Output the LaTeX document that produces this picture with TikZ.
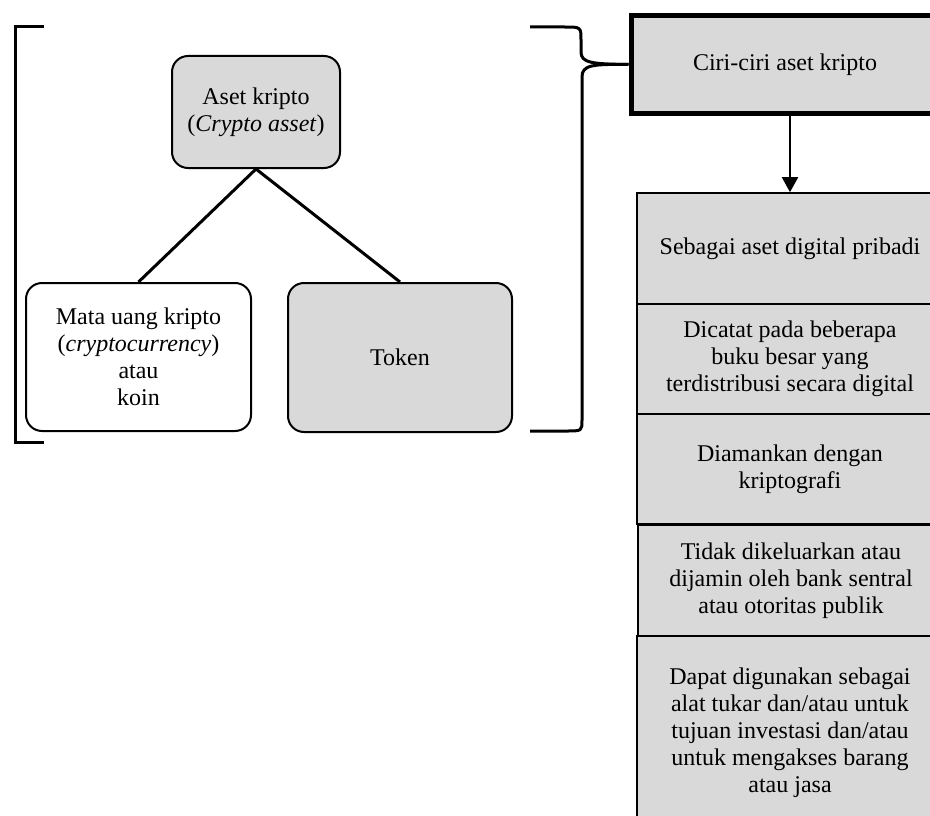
\documentclass[tikz,border=0pt]{standalone}
\usepackage{fontspec}
\setmainfont{Liberation Serif}
\usetikzlibrary{arrows.meta}
\definecolor{boxgray}{HTML}{D9D9D9}
\begin{document}
\begin{tikzpicture}[x=1pt,y=-1pt,
  every node/.style={font=\fontsize{24}{27}\selectfont, align=center, inner sep=0pt},
  roundbox/.style={draw, line width=2pt, rounded corners=16pt},
  stackbox/.style={draw, line width=1.6pt, fill=boxgray, minimum width=306pt},
  bracketline/.style={line width=3pt},
  link/.style={line width=3pt}]
\useasboundingbox (0,0) rectangle (930,816);
\clip (0,0) rectangle (930,816);

% taxonomy of crypto assets
\node[roundbox, fill=boxgray, minimum width=168pt, minimum height=112pt] (aset) at (256,112)
  {Aset kripto\\(\textit{Crypto asset})};
\node[roundbox, fill=white, minimum width=225pt, minimum height=148pt] (mata) at (138.5,357)
  {Mata uang kripto\\(\textit{cryptocurrency})\\atau\\koin};
\node[roundbox, fill=boxgray, minimum width=224pt, minimum height=149pt] (token) at (400,357.5)
  {Token};
\draw[link] (aset.south) -- (mata.north);
\draw[link] (aset.south) -- (token.north);

% characteristics header (runs past the right edge)
\node[draw, line width=5pt, fill=boxgray, minimum width=308pt, minimum height=98pt] (ciri) at (785,64.5)
  {Ciri-ciri aset kripto};

% characteristics list (runs past the right and bottom edges)
\node[stackbox, minimum height=111pt] (s1) at (790,248.5) {Sebagai aset digital pribadi};
\node[stackbox, minimum height=110pt] (s2) at (790,359) {Dicatat pada beberapa\\buku besar yang\\terdistribusi secara digital};
\node[stackbox, minimum height=110pt] (s3) at (790,469) {Diamankan dengan\\kriptografi};
\node[stackbox, minimum height=111pt] (s4) at (791,580.5) {Tidak dikeluarkan atau\\dijamin oleh bank sentral\\atau otoritas publik};
\node[stackbox, minimum height=194pt] (s5) at (790,733) {Dapat digunakan sebagai\\alat tukar dan/atau untuk\\tujuan investasi dan/atau\\untuk mengakses barang\\atau jasa};

\draw[line width=2pt, -{Triangle[length=15pt,width=16pt]}] (s1.north |- ciri.south) -- (s1.north);

% left bracket
\draw[bracketline] (44,27) -- (15,27) -- (15,442) -- (44,442);

% right curly brace pointing at the header
\coordinate (tip) at (ciri.west);
\draw[bracketline] (530,27) -- (564,27) .. controls (581,27) .. (581,40) -- (581,52)
  .. controls (581,63) and (592,64) .. (tip);
\draw[bracketline] (tip) .. controls (592,64) and (582,65) .. (582,77) -- (582,420)
  .. controls (582,431) .. (566,431) -- (530,431);
\end{tikzpicture}
\end{document}
